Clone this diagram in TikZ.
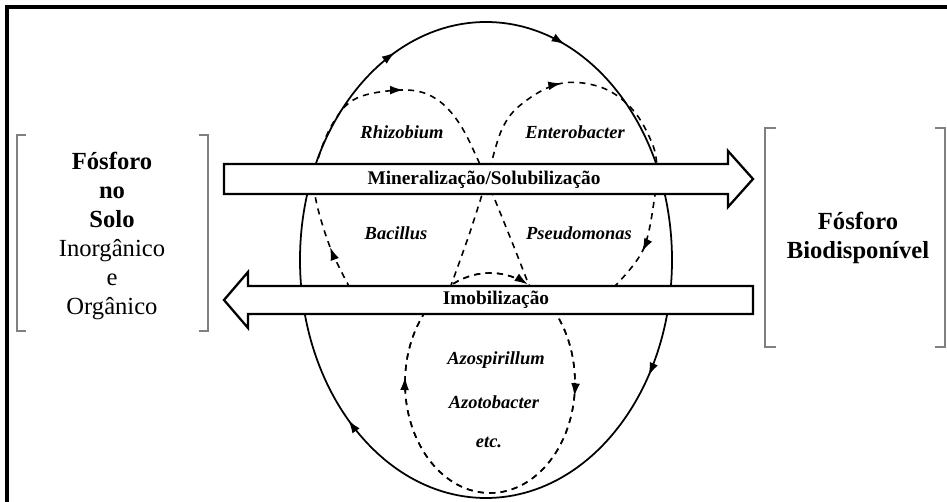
\documentclass[tikz,border=0pt]{standalone}
\usepackage{fontspec}
\setmainfont{Liberation Serif}
\usetikzlibrary{arrows.meta,decorations.markings}

\begin{document}
\begin{tikzpicture}[x=0.02cm,y=-0.02cm,>={Latex[length=7.5pt,width=5pt]},
  side/.style={align=center,font=\fontsize{14}{16.5}\selectfont},
  midtxt/.style={font=\fontsize{11}{13}\selectfont\bfseries},
  bug/.style={font=\fontsize{10.5}{12}\selectfont\bfseries\itshape},
  bar/.style={draw=black,line width=1.3pt,fill=white,line join=miter},
  brk/.style={draw=black!50,line width=0.9pt},
  cyc/.style={line width=1pt},
  dsh/.style={line width=0.9pt,dash pattern=on 3.5pt off 3pt},
  arr/.style 2 args={postaction={decorate,decoration={markings,
    mark=at position #1 with {\arrow{>}},mark=at position #2 with {\arrow{>}}}}},
  arrr/.style n args={4}{postaction={decorate,decoration={markings,
    mark=at position #1 with {\arrow{>}},mark=at position #2 with {\arrow{>}},
    mark=at position #3 with {\arrow{>}},mark=at position #4 with {\arrow{>}}}}}]
\useasboundingbox (0,0) rectangle (947,502);
\clip (0,0) rectangle (947,502);
\draw[line width=2pt] (7,520) |- (960,7);

\draw[brk] (26,135) -| (17,331) -- (26,331);
\draw[brk] (199,135) -| (208,331) -- (199,331);
\draw[brk] (776,128) -| (765,347) -- (776,347);
\draw[brk] (935,128) -| (945,347) -- (935,347);

\node[side] (solo) at (112,236) {\textbf{Fósforo}\\\textbf{no}\\\textbf{Solo}\\Inorgânico\\e\\Orgânico};
\node[side,font=\fontsize{14}{17}\selectfont\bfseries] (bio) at (858,238) {Fósforo\\Biodisponível};

\draw[cyc,arrr={0.089}{0.373}{0.677}{0.812}] (486,260) ellipse [x radius=186, y radius=238];
\draw[dsh,arr={0.022}{0.51}] (490,383) ellipse [x radius=85, y radius=110];
\draw[dsh,postaction={decorate,decoration={markings,mark=at position 0.815 with {\arrow{>}}}}] (490,383) ellipse [x radius=85, y radius=110];
\draw[dsh,arr={0.09}{0.51}] plot[smooth,tension=0.6] coordinates {(350,288) (330,247) (315,195) (317,163) (333,123) (357,98) (403,90) (433,97) (457,120) (478,160) (508,232) (530,288)};
\draw[dsh,arr={0.47}{0.91}] plot[smooth,tension=0.6] coordinates {(450,288) (469,235) (486,182) (503,127) (527,100) (563,83) (603,88) (633,110) (652,143) (657,168) (655,195) (643,250) (613,288)};

\draw[bar] (224,164) -- (728,164) -- (728,151) -- (753,179) -- (728,207) -- (728,194) -- (224,194) -- cycle;
\draw[bar] (753,286) -- (248,286) -- (248,272) -- (224,300) -- (248,328) -- (248,314) -- (753,314) -- cycle;
\node[midtxt] (miner) at (484,180) {Mineralização/Solubilização};
\node[midtxt] (imob) at (496,300) {Imobilização};

\node[bug] (rhizo) at (402,132) {Rhizobium};
\node[bug] (entero) at (575,132) {Enterobacter};
\node[bug] (bacil) at (396,233) {Bacillus};
\node[bug] (pseudo) at (579,233) {Pseudomonas};
\node[bug] (azosp) at (496,360) {Azospirillum};
\node[bug] (azoto) at (494,402) {Azotobacter};
\node[bug] (etc) at (489,442) {etc.};
\end{tikzpicture}
\end{document}
